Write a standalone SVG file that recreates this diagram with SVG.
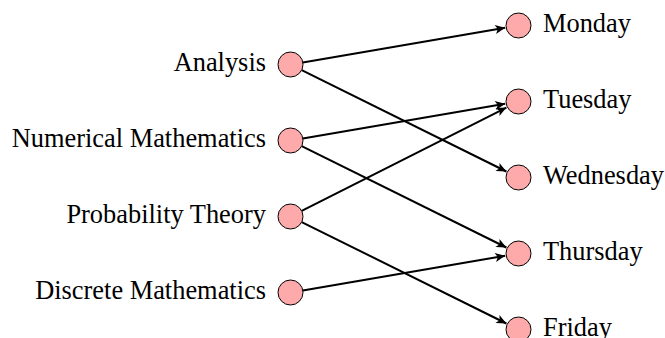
<svg xmlns="http://www.w3.org/2000/svg" width="665" height="338" viewBox="0 0 665 338">
<defs>
<style>
.n circle{fill:#ffaaaa;stroke:#000;stroke-width:1}
text{font-family:"Liberation Serif","Times New Roman",serif;font-size:26.4px;fill:#000}
.l text{text-anchor:end}
#edges line{stroke:#000;stroke-width:2;marker-end:url(#ah)}
</style>
<marker id="ah" markerUnits="userSpaceOnUse" markerWidth="14" markerHeight="12" viewBox="-12 -6 14 12" refX="0" refY="0" orient="auto">
<path d="M0,0 L-10,-4.5 L-7.5,0 L-10,4.5 Z" fill="#000"/>
</marker>
</defs>
<rect width="665" height="338" fill="#fff"/>
<g id="edges">
<line x1="302.8" y1="62.4" x2="505.2" y2="27.8"/>
<line x1="301.7" y1="70.05" x2="506.4" y2="171.5"/>
<line x1="302.8" y1="138.4" x2="505.2" y2="103.8"/>
<line x1="301.7" y1="146.05" x2="506.4" y2="247.5"/>
<line x1="301.7" y1="210.9" x2="506.4" y2="107.6"/>
<line x1="301.7" y1="222.05" x2="506.4" y2="323.5"/>
<line x1="302.8" y1="290.4" x2="505.2" y2="255.8"/>
</g>
<g id="analysis" class="n l"><circle cx="290.5" cy="64.5" r="12.5"/><text x="266" y="71">Analysis</text></g>
<g id="numerical" class="n l"><circle cx="290.5" cy="140.5" r="12.5"/><text x="266" y="147">Numerical Mathematics</text></g>
<g id="probability" class="n l"><circle cx="290.5" cy="216.5" r="12.5"/><text x="266" y="223">Probability Theory</text></g>
<g id="discrete" class="n l"><circle cx="290.5" cy="292.5" r="12.5"/><text x="266" y="299">Discrete Mathematics</text></g>
<g id="monday" class="n"><circle cx="518.5" cy="25.5" r="12.5"/><text x="543" y="32">Monday</text></g>
<g id="tuesday" class="n"><circle cx="518.5" cy="101.5" r="12.5"/><text x="543" y="108">Tuesday</text></g>
<g id="wednesday" class="n"><circle cx="518.5" cy="177.5" r="12.5"/><text x="543" y="184">Wednesday</text></g>
<g id="thursday" class="n"><circle cx="518.5" cy="253.5" r="12.5"/><text x="543" y="260">Thursday</text></g>
<g id="friday" class="n"><circle cx="518.5" cy="329.5" r="12.5"/><text x="543" y="336">Friday</text></g>
</svg>
